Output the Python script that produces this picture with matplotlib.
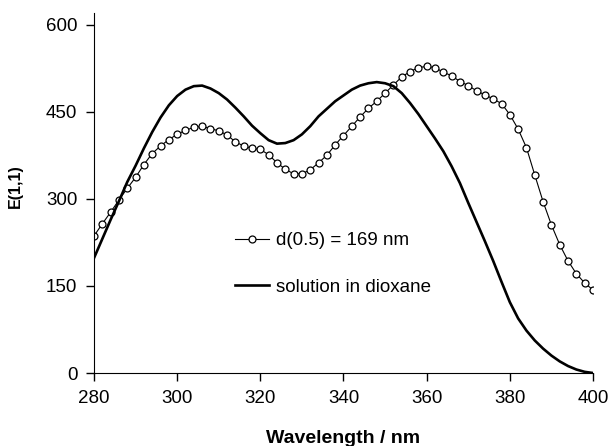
import matplotlib.pyplot as plt

# wavelength grid (nm), every 2 nm
wl = list(range(280, 401, 2))

# d(0.5) = 169 nm film (open circles)
film = [236, 257, 277, 298, 318, 337, 359, 378, 391, 402,
        411, 418, 423, 425, 421, 417, 410, 398, 391, 387,
        385, 376, 362, 351, 343, 343, 350, 362, 375, 393,
        409, 425, 441, 456, 468, 482, 496, 510, 519, 526,
        528, 526, 518, 512, 502, 495, 486, 479, 472, 464,
        445, 420, 388, 341, 295, 255, 221, 193, 171, 155,
        143]

# solution in dioxane (thick line)
solution = [198, 231, 264, 296, 329, 357, 387, 415, 440, 461,
            477, 488, 494, 495, 490, 482, 471, 457, 442, 426,
            413, 401, 395, 396, 401, 411, 425, 442, 455, 468,
            478, 488, 495, 499, 501, 499, 494, 482, 465, 446,
            425, 404, 382, 356, 327, 293, 260, 227, 193, 157,
            122, 94, 73, 56, 42, 30, 20, 12, 6, 2,
            0]

xticks = [280, 300, 320, 340, 360, 380, 400]
yticks = [0, 150, 300, 450, 600]

plt.rcParams["font.family"] = ["Liberation Sans", "DejaVu Sans"]
plt.rcParams["font.size"] = 13.5

fig = plt.figure(figsize=(6.08, 4.46), dpi=100)
ax = fig.add_axes([94 / 608, 1 - 373 / 446, 499 / 608, 360 / 446])

ax.plot(wl, film, color="black", linewidth=0.8, marker="o", markersize=5,
        markerfacecolor="white", markeredgecolor="black", markeredgewidth=0.9,
        label="d(0.5) = 169 nm")
ax.plot(wl, solution, color="black", linewidth=1.9, label="solution in dioxane")

ax.set_xlim(280, 400)
ax.set_ylim(0, 620)
ax.set_xticks(xticks)
ax.set_yticks(yticks)
ax.tick_params(direction="out", length=6, width=1, pad=6)
for side in ["top", "right"]:
    ax.spines[side].set_visible(False)

ax.set_xlabel("Wavelength / nm", fontweight="bold", fontsize=14, labelpad=17)
ax.set_ylabel("E(1,1)", fontweight="bold", fontsize=11.5)
ax.yaxis.set_label_coords(-0.142, 0.519)

ax.legend(loc="upper left", bbox_to_anchor=(235 / 608, 1 - 232 / 446),
          bbox_transform=fig.transFigure, frameon=False, borderpad=0,
          borderaxespad=0, handlelength=1.8, handletextpad=0.37,
          labelspacing=1.57)

fig.savefig("out.png", dpi=100)
